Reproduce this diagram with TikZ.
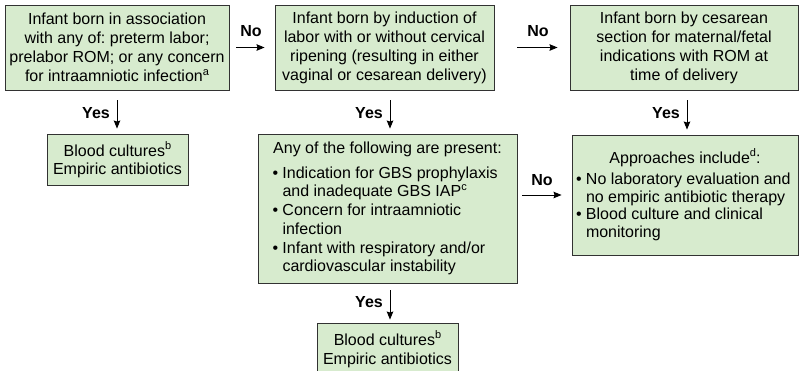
\documentclass[tikz,border=0pt]{standalone}
\usepackage{fontspec}
\setmainfont{Liberation Sans}
\usetikzlibrary{arrows.meta,calc}
\definecolor{boxfill}{RGB}{215,235,206}
\definecolor{boxline}{RGB}{50,50,50}
\newcommand{\bitem}[1]{\par\hangindent=10pt\hangafter=1\noindent\makebox[10pt][l]{•}#1}
\newcommand{\supmark}[1]{\raisebox{0.42em}{\fontsize{11}{11}\selectfont #1}}
\frenchspacing
\begin{document}
\begin{tikzpicture}[x=1pt,y=-1pt,
  box/.style={draw=boxline,fill=boxfill,line width=0.9pt,inner sep=2pt,align=center,
              font=\fontsize{16}{19}\selectfont\frenchspacing},
  arr/.style={-{Stealth[length=8pt,width=6.5pt,inset=1pt]},line width=0.9pt},
  lbl/.style={font=\bfseries\fontsize{16}{19}\selectfont,inner sep=0pt}]
\clip (0,0) rectangle (800,370);
\fill[white] (0,0) rectangle (800,370);

% top row
\node[box,minimum width=224pt,minimum height=85pt] (A) at (117,47.5)
  {Infant born in association\\with any of: preterm labor;\\prelabor ROM; or any concern\\for intraamniotic infection\supmark{a}};
\node[box,minimum width=219pt,minimum height=85pt] (B) at (384.5,47.5)
  {Infant born by induction of\\labor with or without cervical\\ripening (resulting in either\\vaginal or cesarean delivery)};
\node[box,minimum width=228pt,minimum height=85pt] (C) at (684,47.5)
  {Infant born by cesarean\\section for maternal/fetal\\indications with ROM at\\time of delivery};

% second row
\node[box,minimum width=141pt,minimum height=51pt,font=\fontsize{16}{18}\selectfont] (A2) at (117.5,159.5)
  {Blood cultures\supmark{b}\\Empiric antibiotics};
\node[box,minimum width=259pt,minimum height=149pt] (B2) at (387.5,208.5)
  {\begin{minipage}{230pt}\fontsize{16}{18.7}\selectfont\frenchspacing
   \centering Any of the following are present:\par\vspace{6pt}\raggedright
   \bitem{Indication for GBS prophylaxis\newline and inadequate GBS IAP\supmark{c}}
   \bitem{Concern for intraamniotic\newline infection}
   \bitem{Infant with respiratory and/or\newline cardiovascular instability}
   \end{minipage}};
\node[box,minimum width=226pt,minimum height=120pt] (C2) at (685,195)
  {\begin{minipage}{218pt}\fontsize{16}{17.8}\selectfont\frenchspacing
   \centering Approaches include\supmark{d}:\par\vspace{3pt}\raggedright
   \bitem{No laboratory evaluation and\newline no empiric antibiotic therapy}
   \bitem{Blood culture and clinical\newline monitoring}
   \end{minipage}};

% third row
\node[box,minimum width=141pt,minimum height=52pt,font=\fontsize{16}{19}\selectfont] (B3) at (387.5,349)
  {Blood cultures\supmark{b}\\Empiric antibiotics};

% connectors
\draw[arr,shorten <=7pt,shorten >=10pt] (A) -- (B);
\draw[arr,shorten <=23pt,shorten >=12pt] (B) -- (C);
\draw[arr,shorten <=5pt,shorten >=10pt] (B2.east |- C2.west) -- (C2.west);
\draw[arr,shorten <=10pt,shorten >=5pt] (A.south) -- (A.south |- A2.north);
\draw[arr,shorten <=10pt,shorten >=5pt] ([xshift=5.5pt]B.south) -- ([xshift=5.5pt]B.south |- B2.north);
\draw[arr,shorten <=10pt,shorten >=5pt] ([xshift=3pt]C.south) -- ([xshift=3pt]C.south |- C2.north);
\draw[arr,shorten <=7pt,shorten >=3pt] ([xshift=2.5pt]B2.south) -- ([xshift=2.5pt]B3.north);

% labels
\node[lbl] (no1) at (251,31) {No};
\node[lbl] (no2) at (538,31) {No};
\node[lbl] (no3) at (542,180) {No};
\node[lbl,anchor=east] (yes1) at (110,113) {Yes};
\node[lbl,anchor=east] (yes2) at (383,113) {Yes};
\node[lbl,anchor=east] (yes3) at (680,113) {Yes};
\node[lbl,anchor=east] (yes4) at (383,302) {Yes};
\end{tikzpicture}
\end{document}
